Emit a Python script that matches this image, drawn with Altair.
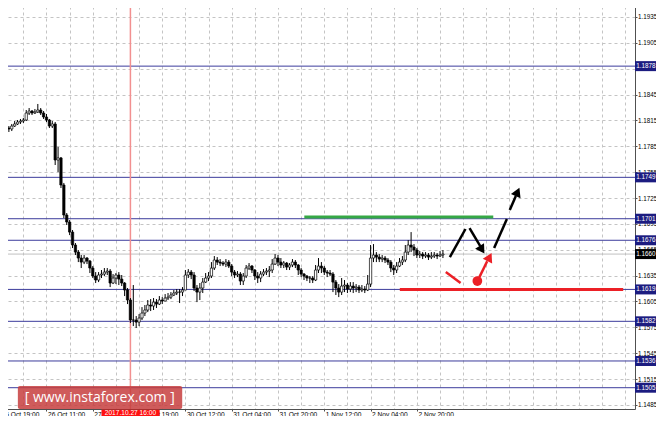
import altair as alt
import pandas as pd

# ---------------- data ----------------
OPEN_FIRST = 1.18051
CLOSES = [
    1.18062, 1.18051, 1.18085, 1.18109, 1.18132, 1.18143, 1.18155, 1.18236, 1.18259, 1.18236,
    1.18248, 1.18271, 1.18236, 1.18190, 1.18155, 1.18085, 1.18109, 1.17691, 1.17715, 1.17401,
    1.17053, 1.16972, 1.16855, 1.16705, 1.16623, 1.16554, 1.16507, 1.16554, 1.16519, 1.16438,
    1.16345, 1.16299, 1.16357, 1.16368, 1.16391, 1.16403, 1.16264, 1.16322, 1.16357, 1.16310,
    1.16264, 1.16183, 1.16067, 1.15835, 1.15835, 1.15811, 1.15858, 1.15916, 1.15951, 1.16009,
    1.15997, 1.16043, 1.16020, 1.16067, 1.16055, 1.16090, 1.16101, 1.16125, 1.16148, 1.16159,
    1.16159, 1.16183, 1.16357, 1.16391, 1.16357, 1.16206, 1.16159, 1.16206, 1.16275, 1.16322,
    1.16345, 1.16438, 1.16531, 1.16507, 1.16496, 1.16484, 1.16507, 1.16461, 1.16391, 1.16357,
    1.16368, 1.16287, 1.16345, 1.16438, 1.16461, 1.16415, 1.16345, 1.16322, 1.16368, 1.16391,
    1.16403, 1.16415, 1.16484, 1.16554, 1.16507, 1.16473, 1.16496, 1.16449, 1.16473, 1.16507,
    1.16473, 1.16415, 1.16368, 1.16345, 1.16322, 1.16322, 1.16299, 1.16415, 1.16461, 1.16438,
    1.16391, 1.16380, 1.16368, 1.16275, 1.16206, 1.16159, 1.16229, 1.16241, 1.16194, 1.16229,
    1.16206, 1.16217, 1.16183, 1.16194, 1.16183, 1.16252, 1.16554, 1.16589, 1.16565, 1.16542,
    1.16554, 1.16531, 1.16507, 1.16438, 1.16415, 1.16461, 1.16507, 1.16531, 1.16623, 1.16705,
    1.16681, 1.16647, 1.16589, 1.16600, 1.16577, 1.16589, 1.16565, 1.16577, 1.16589, 1.16577,
    1.16589, 1.16600,
]
HIGHS = [
    1.18109, 1.18085, 1.18109, 1.18143, 1.18155, 1.18167, 1.18178, 1.18271, 1.18294, 1.18271,
    1.18283, 1.18341, 1.18294, 1.18259, 1.18225, 1.18167, 1.18143, 1.18132, 1.17842, 1.17726,
    1.17425, 1.17076, 1.16995, 1.16879, 1.16728, 1.16647, 1.16589, 1.16589, 1.16565, 1.16531,
    1.16461, 1.16391, 1.16391, 1.16415, 1.16438, 1.16438, 1.16426, 1.16368, 1.16380, 1.16391,
    1.16357, 1.16275, 1.16206, 1.16090, 1.16241, 1.15881, 1.15904, 1.15985, 1.16009, 1.16067,
    1.16078, 1.16090, 1.16078, 1.16113, 1.16101, 1.16136, 1.16148, 1.16159, 1.16183, 1.16194,
    1.16194, 1.16217, 1.16415, 1.16426, 1.16415, 1.16391, 1.16241, 1.16264, 1.16322, 1.16380,
    1.16391, 1.16507, 1.16577, 1.16565, 1.16542, 1.16519, 1.16542, 1.16531, 1.16484, 1.16415,
    1.16403, 1.16391, 1.16380, 1.16473, 1.16496, 1.16473, 1.16426, 1.16391, 1.16403, 1.16426,
    1.16438, 1.16461, 1.16542, 1.16600, 1.16589, 1.16554, 1.16519, 1.16507, 1.16496, 1.16542,
    1.16531, 1.16484, 1.16438, 1.16380, 1.16357, 1.16345, 1.16345, 1.16473, 1.16554, 1.16507,
    1.16461, 1.16415, 1.16415, 1.16391, 1.16299, 1.16252, 1.16322, 1.16299, 1.16264, 1.16275,
    1.16275, 1.16252, 1.16241, 1.16241, 1.16229, 1.16357, 1.16705, 1.16716, 1.16623, 1.16600,
    1.16589, 1.16577, 1.16554, 1.16531, 1.16473, 1.16507, 1.16554, 1.16577, 1.16705, 1.16763,
    1.16855, 1.16716, 1.16670, 1.16635, 1.16623, 1.16623, 1.16612, 1.16623, 1.16623, 1.16612,
    1.16635, 1.16647,
]
LOWS = [
    1.18027, 1.18016, 1.18027, 1.18074, 1.18097, 1.18109, 1.18120, 1.18143, 1.18213, 1.18213,
    1.18225, 1.18236, 1.18213, 1.18167, 1.18132, 1.18062, 1.18062, 1.17633, 1.17552, 1.17366,
    1.17018, 1.16937, 1.16820, 1.16670, 1.16589, 1.16507, 1.16438, 1.16484, 1.16484, 1.16380,
    1.16322, 1.16264, 1.16275, 1.16322, 1.16345, 1.16357, 1.16217, 1.16252, 1.16252, 1.16241,
    1.16229, 1.16113, 1.16020, 1.15800, 1.15765, 1.15742, 1.15765, 1.15835, 1.15881, 1.15927,
    1.15939, 1.15951, 1.15974, 1.16009, 1.16020, 1.16055, 1.16067, 1.16078, 1.16113, 1.16125,
    1.16032, 1.16113, 1.16183, 1.16322, 1.16310, 1.16171, 1.16043, 1.16067, 1.16148, 1.16264,
    1.16287, 1.16322, 1.16415, 1.16473, 1.16461, 1.16461, 1.16449, 1.16438, 1.16345, 1.16322,
    1.16333, 1.16241, 1.16241, 1.16322, 1.16415, 1.16380, 1.16299, 1.16264, 1.16275, 1.16345,
    1.16357, 1.16333, 1.16380, 1.16473, 1.16461, 1.16438, 1.16438, 1.16415, 1.16415, 1.16449,
    1.16438, 1.16357, 1.16333, 1.16299, 1.16287, 1.16264, 1.16264, 1.16287, 1.16380, 1.16380,
    1.16357, 1.16333, 1.16345, 1.16159, 1.16125, 1.16101, 1.16125, 1.16159, 1.16148, 1.16159,
    1.16148, 1.16159, 1.16148, 1.16159, 1.16148, 1.16171, 1.16217, 1.16507, 1.16507, 1.16507,
    1.16507, 1.16496, 1.16473, 1.16391, 1.16357, 1.16380, 1.16449, 1.16473, 1.16507, 1.16589,
    1.16623, 1.16577, 1.16554, 1.16554, 1.16542, 1.16554, 1.16531, 1.16542, 1.16554, 1.16542,
    1.16565, 1.16554,
]

LEVELS = [1.1878, 1.1749, 1.1701, 1.1676, 1.1619, 1.1582, 1.1536, 1.1505]
CURRENT_PRICE = 1.1660
Y_TICKS = [1.1485, 1.1515, 1.1545, 1.1575, 1.1605, 1.1635, 1.1665, 1.1695,
           1.1725, 1.1755, 1.1785, 1.1815, 1.1845, 1.1875, 1.1905, 1.1935]
X_LABEL_POS = [-2, 14, 30, 46, 62, 78, 94, 110, 126, 142]
X_LABELS = ["25 Oct 19:00", "26 Oct 11:00", "27 Oct 03:00", "27 Oct 19:00",
            "30 Oct 12:00", "31 Oct 04:00", "31 Oct 20:00", "1 Nov 12:00",
            "2 Nov 04:00", "2 Nov 20:00"]
X_GRID_POS = [-2, 6, 14, 22, 30, 38, 46, 54, 62, 70, 78, 86, 94, 102, 110, 118,
              126, 134, 142, 150, 158, 166, 174, 182, 190, 198, 206, 214]
MARKED_BAR = 43
MARKED_LABEL = "2017.10.27 16:00"

# annotations (bar index, price)
GREEN_LINE = {"x": [103.1], "x2": [168.4], "y": [1.1703]}
RED_LINE = {"x": [136.1], "x2": [213.3], "y": [1.1619]}
BLACK_SEGS = {"x": [153.4, 160.2, 168.7, 174.1], "x2": [158.8, 163.9, 173.1, 176.2],
              "y": [1.16565, 1.16902, 1.16670, 1.17111], "y2": [1.16891, 1.16693, 1.17007, 1.17273]}
BLACK_HEADS = {"x": [164.5, 176.8], "y": [1.16650, 1.17320], "angle": [148, 24]}
RED_SEGS = {"x": [152.0, 163.6], "x2": [157.1, 166.3], "y": [1.16391, 1.16333], "y2": [1.16264, 1.16517]}
RED_HEAD = {"x": [167.1], "y": [1.16565], "angle": [27]}
RED_DOT = {"x": [162.9], "y": [1.16287]}
WATERMARK = {"x": [4.1], "x2": [60.9], "y": [1.15070], "y2": [1.14803],
             "tx": [32.4], "ty": [1.14935], "label": ["[ www.instaforex.com ]"]}
BOX_X0, BOX_X1 = 33.0, 53.1

# ---------------- chart ----------------
X_DOMAIN = [-0.34, 215.65]
Y_DOMAIN = [1.14803, 1.19547]
FONT = "Liberation Sans"

xs = alt.Scale(domain=X_DOMAIN, nice=False, zero=False)
ys = alt.Scale(domain=Y_DOMAIN, nice=False, zero=False)

label_expr = "".join(f"datum.value == {p} ? '{t}' : " for p, t in zip(X_LABEL_POS, X_LABELS)) + "''"
tick_test = "indexof([" + ",".join(str(p) for p in X_LABEL_POS) + "], datum.value) >= 0"

xaxis = alt.Axis(values=X_GRID_POS, grid=True, gridDash=[3, 3], gridColor="#c4c4c4",
                 labelExpr=label_expr, labelAlign="left", labelBaseline="top",
                 labelFont=FONT, labelFontSize=6.6, labelColor="#000000", labelPadding=0,
                 labelOffset=1, labelFlush=False, labelOverlap=False,
                 tickSize=2, tickColor="#505050",
                 tickOpacity={"condition": {"test": tick_test, "value": 1}, "value": 0},
                 domainColor="#505050", title="")
yaxis = alt.Axis(orient="right", values=Y_TICKS, format=".4f", grid=True, gridDash=[3, 3],
                 gridColor="#c4c4c4", labelFont=FONT, labelFontSize=6.3, labelColor="#000000",
                 labelPadding=0.5, labelFlush=False, labelOverlap=False, tickSize=2,
                 tickColor="#505050", domainColor="#505050", title="")


def X(f):
    return alt.X(f, type="quantitative", scale=xs, axis=xaxis)


def Y(f):
    return alt.Y(f, type="quantitative", scale=ys, axis=yaxis)


df = pd.DataFrame({"i": list(range(len(CLOSES))), "close": CLOSES, "high": HIGHS, "low": LOWS})
df["open"] = [OPEN_FIRST] + CLOSES[:-1]

levels_df = pd.DataFrame({"v": LEVELS})
cur_df = pd.DataFrame({"v": [CURRENT_PRICE]})

wicks = alt.Chart(df).mark_rule(color="#000000", strokeWidth=1).encode(
    x=X("i"), y=Y("low"), y2=alt.Y2("high"))
bodies = alt.Chart(df).mark_bar(size=2.3, stroke="#000000", strokeWidth=0.7).encode(
    x=X("i"), y=Y("open"), y2=alt.Y2("close"),
    fill=alt.condition("datum.close >= datum.open", alt.value("#ffffff"), alt.value("#000000")))

cur_line = alt.Chart(cur_df).mark_rule(color="#c0c0c0", strokeWidth=1).encode(y=Y("v"))
level_lines = alt.Chart(levels_df).mark_rule(color="#3c3c9c", strokeWidth=1).encode(y=Y("v"))
marked = alt.Chart(pd.DataFrame({"i": [MARKED_BAR]})).mark_rule(
    color="#f29090", strokeWidth=1.5).encode(x=X("i"))

green = alt.Chart(pd.DataFrame(GREEN_LINE)).mark_rule(color="#35a845", strokeWidth=3).encode(
    x=X("x"), x2=alt.X2("x2"), y=Y("y"))
red = alt.Chart(pd.DataFrame(RED_LINE)).mark_rule(color="#ec2026", strokeWidth=3).encode(
    x=X("x"), x2=alt.X2("x2"), y=Y("y"))

bsegs = alt.Chart(pd.DataFrame(BLACK_SEGS)).mark_rule(color="#000000", strokeWidth=2.5).encode(
    x=X("x"), x2=alt.X2("x2"), y=Y("y"), y2=alt.Y2("y2"))
bheads = alt.Chart(pd.DataFrame(BLACK_HEADS)).mark_point(
    shape="triangle-up", filled=True, color="#000000", size=110, opacity=1).encode(
    x=X("x"), y=Y("y"), angle=alt.Angle("angle:Q", scale=None))
rsegs = alt.Chart(pd.DataFrame(RED_SEGS)).mark_rule(color="#ec2026", strokeWidth=2.5).encode(
    x=X("x"), x2=alt.X2("x2"), y=Y("y"), y2=alt.Y2("y2"))
rhead = alt.Chart(pd.DataFrame(RED_HEAD)).mark_point(
    shape="triangle-up", filled=True, color="#ec2026", size=110, opacity=1).encode(
    x=X("x"), y=Y("y"), angle=alt.Angle("angle:Q", scale=None))
rdot = alt.Chart(pd.DataFrame(RED_DOT)).mark_point(
    shape="circle", filled=True, color="#ec2026", size=95, opacity=1).encode(x=X("x"), y=Y("y"))

wm_df = pd.DataFrame(WATERMARK)
wm_rect = alt.Chart(wm_df).mark_rect(color="#c73e3e", opacity=0.85, cornerRadius=2).encode(
    x=X("x"), x2=alt.X2("x2"), y=Y("y"), y2=alt.Y2("y2"))
wm_text = alt.Chart(wm_df).mark_text(color="#ffffff", font="Open Sans", fontSize=14,
                                     align="center", baseline="middle").encode(
    x=X("tx"), y=Y("ty"), text=alt.Text("label:N"))

lvl_boxes = alt.Chart(levels_df).transform_calculate(
    top="datum.v + 0.00058", bot="datum.v - 0.00058").mark_rect(color="#1c1c80").encode(
    x=alt.value(635), x2=alt.value(656), y=Y("top:Q"), y2=alt.Y2("bot:Q"))
lvl_text = alt.Chart(levels_df).mark_text(color="#ffffff", font=FONT, fontSize=6.3,
                                          align="center", baseline="middle").encode(
    x=alt.value(645.8), y=Y("v"), text=alt.Text("v:Q", format=".4f"))
cur_box = alt.Chart(cur_df).transform_calculate(
    top="datum.v + 0.00058", bot="datum.v - 0.00058").mark_rect(color="#000000").encode(
    x=alt.value(635), x2=alt.value(656), y=Y("top:Q"), y2=alt.Y2("bot:Q"))
cur_text = alt.Chart(cur_df).mark_text(color="#ffffff", font=FONT, fontSize=6.3,
                                       align="center", baseline="middle").encode(
    x=alt.value(645.8), y=Y("v"), text=alt.Text("v:Q", format=".4f"))

mk_df = pd.DataFrame({"x": [BOX_X0], "x2": [BOX_X1], "i": [MARKED_BAR], "t": [MARKED_LABEL]})
mk_box = alt.Chart(mk_df).mark_rect(color="#ff1010").encode(
    x=X("x"), x2=alt.X2("x2"), y=alt.value(409.5), y2=alt.value(416))
mk_text = alt.Chart(mk_df).mark_text(color="#ffffff", font=FONT, fontSize=6.6,
                                     align="center", baseline="middle").encode(
    x=X("i"), y=alt.value(413), text="t:N")

chart = alt.layer(
    cur_line, level_lines, marked, wicks, bodies, green, red,
    bsegs, bheads, rsegs, rhead, rdot, wm_rect, wm_text,
    lvl_boxes, lvl_text, cur_box, cur_text, mk_box, mk_text,
).properties(
    width=635, height=409,
    autosize=alt.AutoSizeParams(type="none"),
    padding={"left": -8, "top": -8, "right": 21, "bottom": 7},
    background="#ffffff",
).configure_view(strokeWidth=0)

chart.save("out.html", embed_options={"renderer": "svg", "actions": False})
